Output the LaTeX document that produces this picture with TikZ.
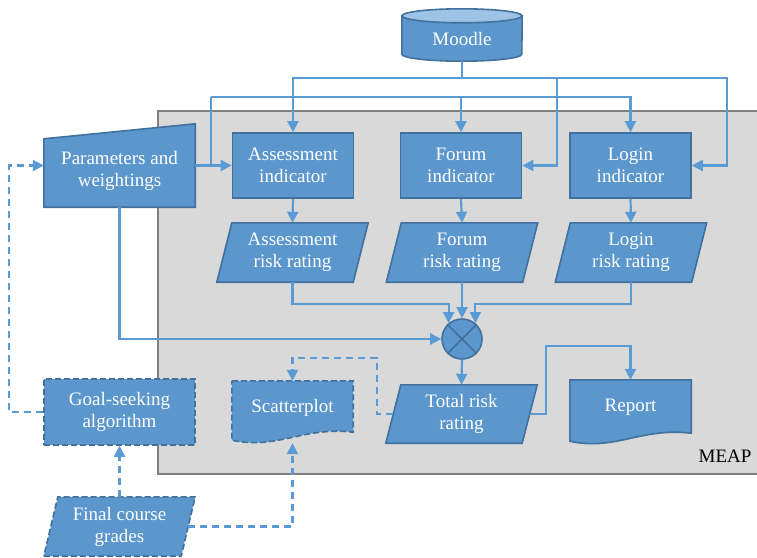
\documentclass[tikz,border=0pt]{standalone}
\usepackage{fontspec}
\setmainfont{Liberation Serif}
\usetikzlibrary{arrows.meta,calc}
\pgfdeclarelayer{back}
\pgfdeclarelayer{shape}
\pgfsetlayers{back,shape,main}
\definecolor{boxfill}{HTML}{5B96CD}
\definecolor{boxline}{HTML}{41719C}
\definecolor{boxtop}{HTML}{9DC3E6}
\definecolor{wire}{HTML}{5B9BD5}
\definecolor{meapfill}{HTML}{D9D9D9}
\definecolor{meapline}{HTML}{7F7F7F}
\begin{document}
\begin{tikzpicture}[x=1pt,y=-1pt,font=\fontsize{19}{22}\selectfont,
    box/.style={draw=boxline,fill=boxfill,line width=1.6pt,text=white,align=center,inner sep=0pt},
    lab/.style={text=white,align=center,inner sep=0pt},
    shp/.style={draw=boxline,fill=boxfill,line width=1.6pt},
    dshp/.style={shp,dash pattern=on 6pt off 3pt},
    wire/.style={draw=wire,line width=2.2pt,-{Triangle[length=11pt,width=11pt]}},
    dwire/.style={wire,dash pattern=on 7pt off 5pt}]
    \useasboundingbox (0,0) rectangle (757,557);

    \begin{pgfonlayer}{back}
        \path[fill=meapfill,draw=meapline,line width=2.2pt] (158,111) rectangle (770,474);
    \end{pgfonlayer}
    \node[inner sep=0pt] (E) at (725,456) {MEAP};

    \node[lab, minimum width=120pt, minimum height=45pt] (M) at (462,38.5) {Moodle};

    \node[lab, minimum width=151pt, minimum height=72pt] (P) at (119.5,171) {Parameters and\\weightings};

    \node[box, minimum width=121pt, minimum height=65pt] (A) at (293,165.5) {Assessment\\indicator};
    \node[box, minimum width=121pt, minimum height=65pt] (F) at (461,165.5) {Forum\\indicator};
    \node[box, minimum width=121pt, minimum height=65pt] (L) at (630.5,165.5) {Login\\indicator};

    \node[lab, minimum width=151pt, minimum height=59pt] (RA) at (292.5,252.5) {Assessment\\risk rating};
    \node[lab, minimum width=151pt, minimum height=59pt] (RF) at (462,252.5) {Forum\\risk rating};
    \node[lab, minimum width=151pt, minimum height=59pt] (RL) at (631,252.5) {Login\\risk rating};

    \node[box, circle, minimum size=40pt] (X) at (462,339) {};
    \draw[boxline, line width=1.6pt] (X.45) -- (X.225) (X.135) -- (X.315);

    \node[lab, minimum width=151pt, minimum height=58pt] (T) at (461.5,414) {Total risk\\rating};
    \node[lab, minimum width=121pt, minimum height=55pt] (R) at (630.5,407.5) {Report};
    \node[lab, minimum width=121pt, minimum height=54pt] (S) at (292.5,408) {Scatterplot};
    \node[box, dash pattern=on 6pt off 3pt, minimum width=151pt, minimum height=66pt] (G) at (119.5,412) {Goal-seeking\\algorithm};
    \node[lab, minimum width=151pt, minimum height=59pt] (FC) at (119.5,526.5) {Final course\\grades};

    \begin{pgfonlayer}{shape}
        % cylinder
        \path[shp] (M.north west) -- ($(M.south west)+(0,-7)$)
            arc[start angle=180, end angle=360, x radius=60pt, y radius=7pt] -- (M.north east) -- cycle;
        \path[shp, fill=boxtop] (M.north) ellipse[x radius=60pt, y radius=7pt];
        % manual input
        \path[shp] (P.south west) -- (P.south east) -- ($(P.north east)+(0,-11)$) -- ($(P.north west)+(0,4)$) -- cycle;
        % data
        \foreach \n in {RA,RF,RL,T}
            \path[shp] (\n.south west) -- ($(\n.south east)+(-15,0)$) -- (\n.north east) -- ($(\n.north west)+(15,0)$) -- cycle;
        \path[dshp] (FC.south west) -- ($(FC.south east)+(-14,0)$) -- (FC.north east) -- ($(FC.north west)+(14,0)$) -- cycle;
        % documents
        \path[shp] (R.north west) -- (R.north east) -- ($(R.south east)+(0,-2)$)
            .. controls ($(R.south east)+(-50,-8)$) and ($(R.south west)+(45,16)$) .. ($(R.south west)+(0,6)$) -- cycle;
        \path[dshp] (S.north west) -- (S.north east) -- ($(S.south east)+(0,-3)$)
            .. controls ($(S.south east)+(-50,-9)$) and ($(S.south west)+(45,15)$) .. ($(S.south west)+(0,5)$) -- cycle;
    \end{pgfonlayer}

    \coordinate (mbus) at (462,78);
    \coordinate (pbus) at (211,97);
    \coordinate (pj) at (211,165.5);
    \coordinate (k) at (546,346);

    % Moodle
    \draw[wire, -] (M.south) -- (mbus);
    \draw[wire] (mbus) -| (A.north);
    \draw[wire] (mbus) -| ($(F.east)+(35,0)$) -- (F.east);
    \draw[wire] (mbus) -| ($(L.east)+(35,0)$) -- (L.east);

    % parameters
    \draw[wire] (P.east |- A.west) -- (A.west);
    \draw[wire, -] (pj) -- (pbus);
    \draw[wire] (pbus) -| (F.north);
    \draw[wire] (pbus) -| (L.north);
    \draw[wire] (P.south) |- (X.west);

    \draw[wire] (A.south) -- (RA.north);
    \draw[wire] (F.south) -- (RF.north);
    \draw[wire] (L.south) -- (RL.north);

    \draw[wire] (RA.south) -- ++(0,22) -| (X.130);
    \draw[wire] (RF.south) -- (X.north);
    \draw[wire] (RL.south) -- ++(0,22) -| (X.50);

    \draw[wire] (X.south) -- (T.north);
    \draw[wire] ($(T.east)+(-7,0)$) -| (k) -| (R.north);

    % feedback
    \draw[dwire] ($(T.west)+(7,0)$) -- ++(-16,0) |- ($(S.north)+(0,-23)$) -- (S.north);
    \draw[dwire] (G.west) -- ++(-34,0) |- (P.west |- A.west);
    \draw[dwire] (FC.north) -- (G.south);
    \draw[dwire] ($(FC.east)+(-7,0)$) -| ($(S.south)+(0,8)$);
\end{tikzpicture}
\end{document}
